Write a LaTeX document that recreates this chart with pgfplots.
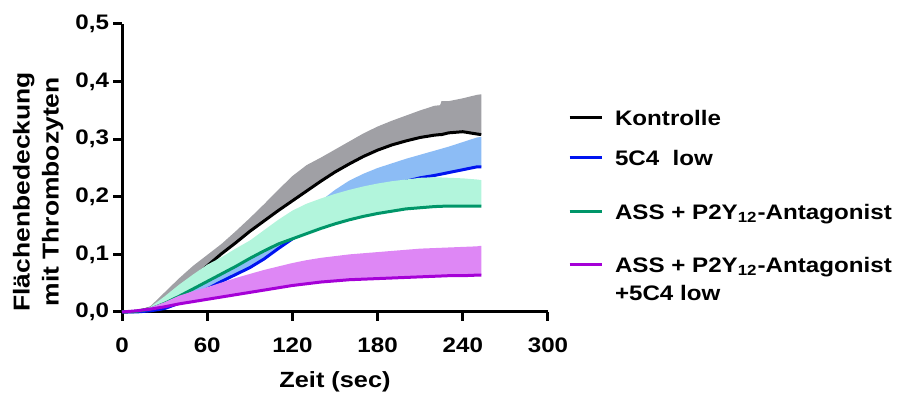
\documentclass[border=0pt]{standalone}
\usepackage{fontspec}
\setmainfont{Liberation Sans}[FakeStretch=1.15]
\usepackage{pgfplots}
\pgfplotsset{compat=1.18}
\usepackage{pgfplotstable}
\usepgfplotslibrary{fillbetween}

\definecolor{cgray}{RGB}{160,160,165}
\definecolor{cblueb}{RGB}{140,188,245}
\definecolor{cblue}{RGB}{0,20,240}
\definecolor{cmint}{RGB}{178,245,220}
\definecolor{cgreen}{RGB}{0,150,105}
\definecolor{cpurpb}{RGB}{222,135,245}
\definecolor{cpurp}{RGB}{165,0,215}

\pgfplotstableread{
t m u
0 0 0
10 0.001 0.001
20 0.006 0.010
30 0.017 0.034
40 0.037 0.058
50 0.058 0.080
60 0.080 0.099
70 0.101 0.118
80 0.120 0.140
90 0.140 0.163
100 0.158 0.187
110 0.176 0.212
120 0.193 0.236
130 0.210 0.255
140 0.227 0.268
150 0.243 0.282
160 0.257 0.296
170 0.270 0.310
180 0.281 0.322
190 0.290 0.332
200 0.297 0.341
210 0.303 0.350
220 0.307 0.358
224 0.308 0.359
225 0.308 0.366
230 0.311 0.366
240 0.313 0.371
250 0.309 0.377
253 0.308 0.378
}\kon

\pgfplotstableread{
t m u
0 0 0
10 0 0
20 0.002 0.003
30 0.006 0.010
40 0.015 0.025
50 0.027 0.045
60 0.040 0.064
70 0.053 0.080
80 0.065 0.095
90 0.077 0.110
100 0.092 0.126
110 0.110 0.142
120 0.127 0.158
130 0.143 0.175
140 0.158 0.193
150 0.173 0.212
160 0.188 0.228
170 0.201 0.240
180 0.211 0.250
190 0.220 0.258
200 0.227 0.266
210 0.233 0.273
220 0.237 0.280
230 0.242 0.287
240 0.247 0.295
250 0.252 0.303
253 0.252 0.304
}\cfour

\pgfplotstableread{
t m u
0 0 0
10 0.001 0.001
20 0.005 0.009
30 0.015 0.027
40 0.027 0.047
50 0.040 0.065
60 0.053 0.082
70 0.066 0.095
80 0.079 0.110
90 0.093 0.124
100 0.106 0.142
110 0.118 0.160
120 0.127 0.176
130 0.136 0.188
140 0.145 0.197
150 0.153 0.205
160 0.160 0.212
170 0.166 0.218
180 0.171 0.223
190 0.175 0.227
200 0.179 0.230
210 0.181 0.233
220 0.183 0.234
230 0.184 0.233
240 0.184 0.232
250 0.184 0.230
253 0.184 0.229
}\ass

\pgfplotstableread{
t m u
0 0 0
10 0.002 0.003
20 0.005 0.008
30 0.009 0.017
40 0.014 0.028
50 0.018 0.036
60 0.022 0.043
70 0.026 0.051
80 0.030 0.059
90 0.034 0.066
100 0.038 0.073
110 0.042 0.079
120 0.046 0.085
130 0.049 0.090
140 0.052 0.094
150 0.054 0.097
160 0.056 0.100
170 0.057 0.102
180 0.058 0.104
190 0.059 0.106
200 0.060 0.108
210 0.061 0.110
220 0.062 0.111
230 0.063 0.112
240 0.063 0.113
250 0.064 0.114
253 0.064 0.115
}\assc

\begin{document}
\begin{tikzpicture}
\begin{axis}[
  at={(61pt,44pt)}, anchor=south west,
  scale only axis, width=213pt, height=144pt,
  xmin=0, xmax=300, ymin=0, ymax=0.5,
  axis x line*=bottom, axis y line*=left,
  axis line style={line width=1.5pt, black},
  xtick={0,60,120,180,240,300},
  ytick={0,0.1,0.2,0.3,0.4,0.5},
  tick align=outside, major tick length=4.5pt,
  tick style={line width=1.5pt, black},
  /pgf/number format/assume math mode=true,
  yticklabel style={/pgf/number format/fixed, /pgf/number format/fixed zerofill, /pgf/number format/precision=1, /pgf/number format/use comma, xshift=1.5pt},
  ticklabel style={font=\bfseries\fontsize{10.5}{12}\selectfont},
  xticklabel style={yshift=-5pt},
  clip=false,
  xlabel={Zeit (sec)},
  xlabel style={at={(axis description cs:0.5,-0.243)}, anchor=center, font=\bfseries\fontsize{11}{13}\selectfont},
  ylabel={Flächenbedeckung\\mit Thrombozyten},
  ylabel style={at={(axis description cs:-0.197,0.417)}, anchor=center, rotate=0, align=center, font=\bfseries\fontsize{11.5}{14.5}\selectfont},
  legend cell align=left,
  legend style={draw=none, fill=none, at={(axis description cs:1.047,0.703)}, anchor=north west,
    inner sep=0pt, outer sep=0pt, row sep=0pt, column sep=6pt,
    cells={anchor=base west},
    nodes={inner sep=0pt, outer sep=0pt, anchor=base west, font=\bfseries\fontsize{10.5}{14}\selectfont}},
  legend image code/.code={\draw[#1, line width=1.5pt] (0pt,3.8pt) -- (16pt,3.8pt);},
]
% Kontrolle
\addplot[draw=none, name path=ku, forget plot] table[x=t,y=u]{\kon};
\addplot[draw=none, name path=km, forget plot] table[x=t,y=m]{\kon};
\addplot[fill=cgray, draw=none, forget plot] fill between[of=ku and km, on layer=main];
\addplot[black, line width=1.5pt] table[x=t,y=m]{\kon};
\addlegendentry[text height=8pt, text depth=10pt]{Kontrolle}
% 5C4 low
\addplot[draw=none, name path=bu, forget plot] table[x=t,y=u]{\cfour};
\addplot[draw=none, name path=bm, forget plot] table[x=t,y=m]{\cfour};
\addplot[fill=cblueb, draw=none, forget plot] fill between[of=bu and bm, on layer=main];
\addplot[cblue, line width=1.5pt] table[x=t,y=m]{\cfour};
\addlegendentry[text height=10pt, text depth=14pt]{5C4\ \ low}
% ASS + P2Y12
\addplot[draw=none, name path=gu, forget plot] table[x=t,y=u]{\ass};
\addplot[draw=none, name path=gm, forget plot] table[x=t,y=m]{\ass};
\addplot[fill=cmint, draw=none, forget plot] fill between[of=gu and gm, on layer=main];
\addplot[cgreen, line width=1.5pt] table[x=t,y=m]{\ass};
\addlegendentry[text height=13pt, text depth=13.5pt]{ASS + P2Y\textsubscript{12}-Antagonist}
% ASS + P2Y12 + 5C4 low
\addplot[draw=none, name path=pu, forget plot] table[x=t,y=u]{\assc};
\addplot[draw=none, name path=pm, forget plot] table[x=t,y=m]{\assc};
\addplot[fill=cpurpb, draw=none, forget plot] fill between[of=pu and pm, on layer=main];
\addplot[cpurp, line width=1.5pt] table[x=t,y=m]{\assc};
\addlegendentry[text height=13pt]{\begin{tabular}[t]{@{}l@{}}ASS + P2Y\textsubscript{12}-Antagonist\\+5C4 low\end{tabular}}
\end{axis}
\pgfresetboundingbox
\path[use as bounding box] (0,0) rectangle (450.5pt,200pt);
\end{tikzpicture}
\end{document}
